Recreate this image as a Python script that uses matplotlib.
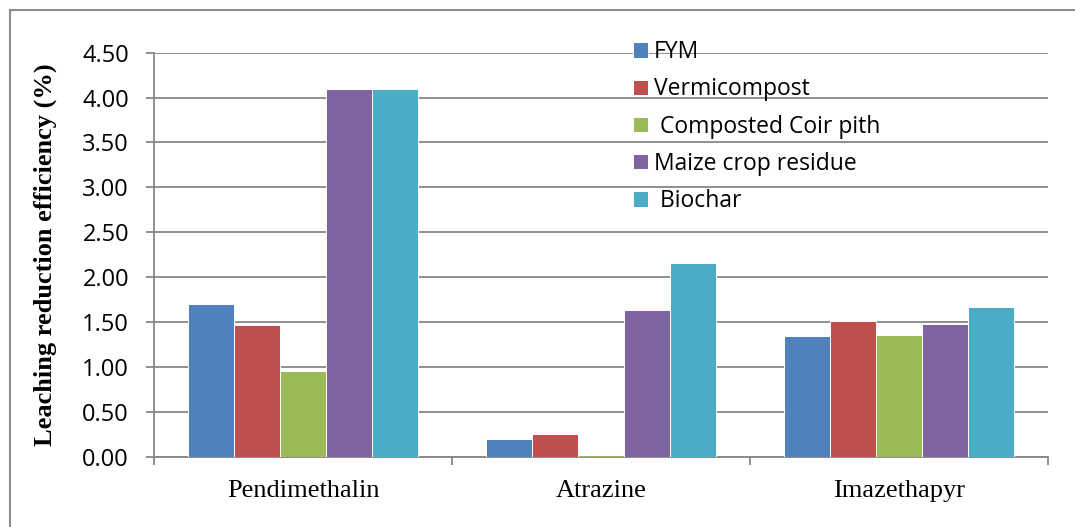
import matplotlib.pyplot as plt
import numpy as np
from matplotlib.patches import Rectangle

# data
herbicides = ['Pendimethalin', 'Atrazine', 'Imazethapyr']
amendments = ['FYM', 'Vermicompost', ' Composted Coir pith', 'Maize crop residue', ' Biochar']
fym = [1.70, 0.20, 1.34]
vermicompost = [1.47, 0.25, 1.51]
coir_pith = [0.95, 0.02, 1.36]
maize_residue = [4.10, 1.63, 1.48]
biochar = [4.10, 2.16, 1.67]
yticks = [0.0, 0.5, 1.0, 1.5, 2.0, 2.5, 3.0, 3.5, 4.0, 4.5]

series = [fym, vermicompost, coir_pith, maize_residue, biochar]
colors = ['#4F81BD', '#C0504D', '#9BBB59', '#8064A2', '#4BACC6']
grey = '#878787'

fig = plt.figure(figsize=(10.75, 5.27), dpi=100)
ax = fig.add_axes([154/1075, 1 - 456.7/527, (1048-154)/1075, (456.7-52.7)/527])

# outer chart frame (only top and left visible in the reference)
fig.patches.append(Rectangle((10/1075, -0.1), 1.2, 1 - 10/527 + 0.1, transform=fig.transFigure,
                             fill=False, edgecolor='#8c8c8c', linewidth=1.5))

x = np.arange(len(herbicides))
w = 0.1544
for i, vals in enumerate(series):
    ax.bar(x + (i - 2) * w, vals, w, color=colors[i], edgecolor='white', linewidth=0.7,
           label=amendments[i], zorder=3)

ax.set_xlim(-0.5, 2.5)
ax.set_ylim(0, 4.5)
ax.set_yticks(yticks)
ax.set_yticklabels(['%.2f' % v for v in yticks], fontfamily='Open Sans', fontsize=17)
ax.yaxis.grid(True, color=grey, linewidth=1.3, zorder=0)

ax.set_xticks([-0.5, 0.5, 1.5, 2.5])
ax.set_xticklabels([])
ax.set_xticks(x, minor=True)
ax.set_xticklabels(herbicides, minor=True, fontfamily='Liberation Serif', fontsize=19)
ax.tick_params(axis='x', which='minor', length=0, pad=16.5)
ax.tick_params(axis='x', which='major', length=6, width=1.3, color=grey, direction='out')
ax.tick_params(axis='y', length=6, width=1.3, color=grey, pad=12)

for s in ['top', 'right']:
    ax.spines[s].set_visible(False)
for s in ['left', 'bottom']:
    ax.spines[s].set_color(grey)
    ax.spines[s].set_linewidth(1.3)

ax.set_ylabel('Leaching reduction efficiency (%)', fontfamily='Liberation Serif',
              fontweight='bold', fontsize=19, labelpad=18)

ax.legend(loc='upper left', bbox_to_anchor=(633/1075, 1 - 40/527), bbox_transform=fig.transFigure,
          frameon=False, prop={'family': 'Open Sans', 'size': 16.5},
          handlelength=0.65, handleheight=0.65, handletextpad=0.25,
          labelspacing=0.58, borderpad=0, borderaxespad=0)

fig.savefig('out.png', dpi=100)
